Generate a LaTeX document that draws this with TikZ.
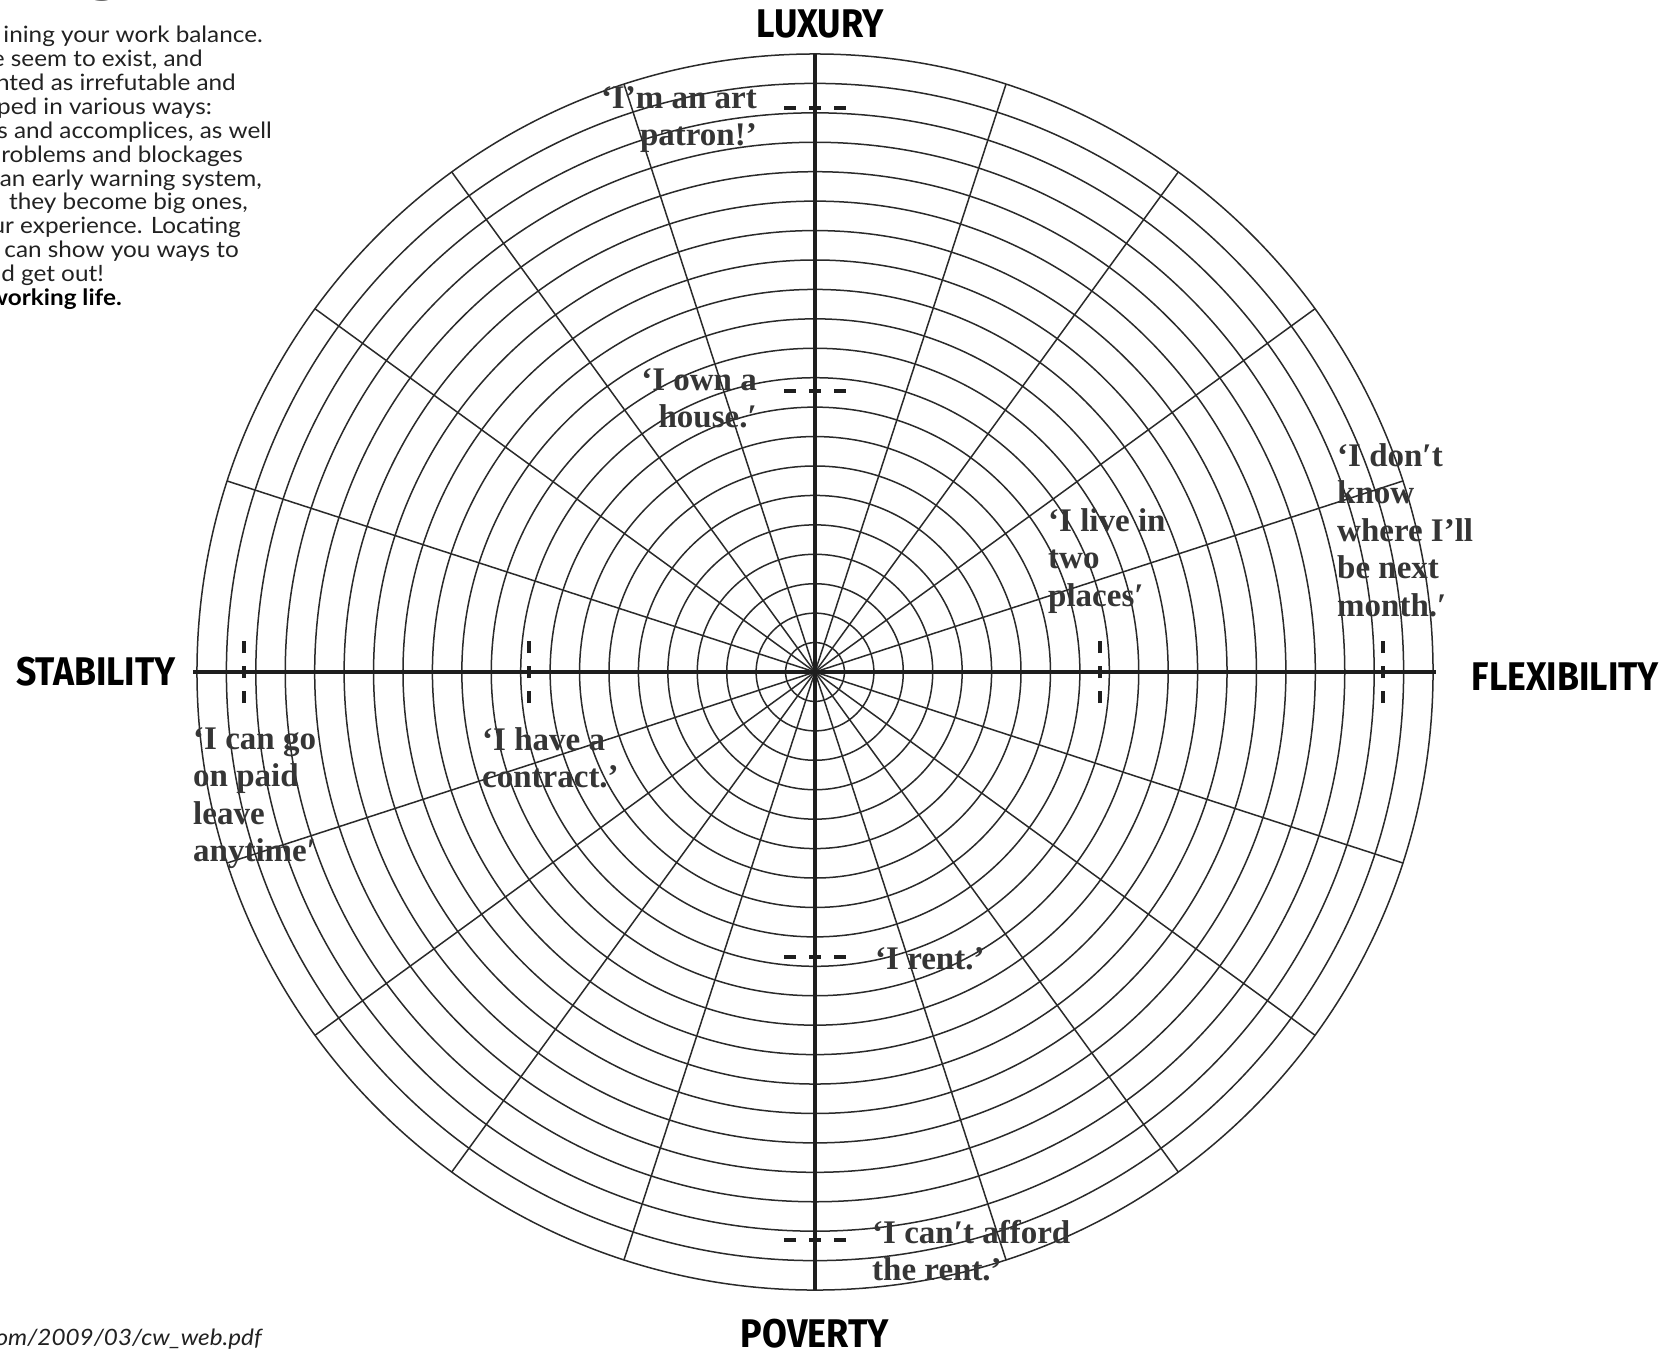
\documentclass[tikz,border=0pt]{standalone}
\usepackage{fontspec}
\usepackage{graphicx}
\setmainfont{Liberation Serif}
\newfontfamily\axisfont{Fira Sans}
\newfontfamily\bodyfont{Lato}[FakeStretch=1.08]
\definecolor{ink}{HTML}{2A2A2A}
\definecolor{axisink}{HTML}{1E1E1E}
\definecolor{qink}{HTML}{353535}
\definecolor{bodyink}{HTML}{222222}
\begin{document}
\begin{tikzpicture}[x=1pt,y=-1pt,
  ring/.style={draw=ink, line width=1.5pt},
  spoke/.style={draw=ink, line width=1.5pt},
  axisline/.style={draw=axisink, line width=4pt},
  tickmark/.style={draw=axisink, line width=3.5pt, dash pattern=on 12pt off 13pt},
  axlabel/.style={font=\axisfont\bfseries\fontsize{40}{40}\selectfont, text=black, inner sep=0pt},
  qtext/.style={font=\bfseries\fontsize{33}{37.5}\selectfont, text=qink, inner sep=0pt},
  bodytext/.style={font=\bodyfont\fontsize{22.5}{24}\selectfont, text=bodyink, inner sep=0pt, anchor=base east}
]
\useasboundingbox (0,0) rectangle (1680,1350);
\clip (0,0) rectangle (1680,1350);
\fill[white] (0,0) rectangle (1680,1350);

\coordinate (O) at (815,672);
% rings
\foreach \k in {1,...,21} \draw[ring] (O) circle[radius={\k*29.43pt}];
% spokes
\foreach \a in {18,36,...,342} \draw[spoke] (O) -- ++(\a:618pt);
% axes
\coordinate (W) at (193,672);
\coordinate (E) at (1436,672);
\coordinate (N) at (815,54);
\coordinate (S) at (815,1290);
\draw[axisline] (W) -- (E);
\draw[axisline] (N) -- (S);
% tick marks
\foreach \n/\x in {h1/244, h2/529, h3/1100, h4/1383} {
  \coordinate (\n) at (\x,672);
  \draw[tickmark] ([yshift=-31pt]\n) -- ([yshift=31pt]\n);
}
\foreach \n/\y in {v1/108, v2/391, v3/957, v4/1240} {
  \coordinate (\n) at (815,\y);
  \draw[tickmark] ([xshift=-31pt]\n) -- ([xshift=31pt]\n);
}

% axis labels
\node[axlabel] (lux) at (820,24) {\scalebox{0.9}[1]{LUXURY}};
\node[axlabel, anchor=west] (stab) at (16,672) {\scalebox{0.89}[1]{STABILITY}};
\node[axlabel, anchor=east] (flex) at (1659,677) {\scalebox{0.89}[1]{FLEXIBILITY}};
\node[axlabel] (pov) at (815,1334) {\scalebox{0.9}[1]{POVERTY}};

% quotes
\node[qtext, anchor=north east, align=right] (q1) at (757,86) {‘I’m an art\\patron!’};
\node[qtext, anchor=north east, align=right] (q2) at (757,368) {‘I own a\\house.′};
\node[qtext, anchor=north west, align=left] (q3) at (1048,508) {‘I live in\\two\\places′};
\node[qtext, anchor=north west, align=left] (q4) at (1337,443) {‘I don′t\\know\\where I’ll\\be next\\month.′};
\node[qtext, anchor=north west, align=left] (q5) at (193,727) {‘I can go\\on paid\\leave\\anytime′};
\node[qtext, anchor=north west, align=left] (q6) at (482,727) {‘I have a\\contract.’};
\node[qtext, anchor=north west, align=left] (q7) at (875,947) {‘I rent.’};
\node[qtext, anchor=north west, align=left] (q8) at (872,1220) {‘I can′t afford\\the rent.’};

% clipped body text at top left
\node[font=\bodyfont\fontsize{80}{80}\selectfont, text=black, inner sep=0pt, anchor=base west] (ttl) at (80,-14) {g};
\node[bodytext] (b1) at (263,42) {ining your work balance.};
\node[bodytext] (b2) at (203,66) {e seem to exist, and};
\node[bodytext] (b3) at (236,90) {nted as irrefutable and};
\node[bodytext] (b4) at (212,114) {ped in various ways:};
\node[bodytext] (b5) at (272,138) {s and accomplices, as well};
\node[bodytext] (b6) at (243,162) {roblems and blockages};
\node[bodytext] (b7) at (262,186) {an early warning system,};
\node[bodytext] (b8) at (248,209) {they become big ones,};
\node[bodytext] (b9) at (241,233) {ur experience. Locating};
\node[bodytext] (b10) at (239,257) {can show you ways to};
\node[bodytext] (b11) at (104,281) {d get out!};
\node[bodytext, text=black, font=\bodyfont\fontsize{22.5}{24}\selectfont\bfseries] (b12) at (122,305) {working life.};
\node[bodytext, font=\bodyfont\itshape\fontsize{22.5}{24}\selectfont] (url) at (262,1345) {om/2009/03/cw\_web.pdf};
\end{tikzpicture}
\end{document}
